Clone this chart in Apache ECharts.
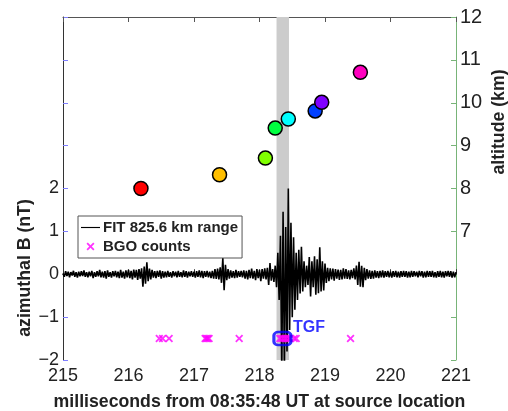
<!DOCTYPE html>
<html><head><meta charset="utf-8">
<script src="https://cdn.jsdelivr.net/npm/echarts@6/dist/echarts.min.js"></script>
<style>html,body{margin:0;padding:0;background:#fff}#c{width:508px;height:411px}</style>
</head><body><div id="c"></div>
<script>
// ---- data ----
const fitStart = 215, fitStep = 0.02; // sample grid of the FIT record (ms)
const fitValues = [
 0.02,-0.06,0.07,-0.04,0.06,-0.07,0.05,-0.03,0.08,-0.06,
 0.05,-0.08,0.06,-0.05,0.07,-0.04,0.09,-0.06,0.05,-0.07,
 0.06,-0.05,0.08,-0.09,0.05,-0.06,0.07,-0.05,0.10,-0.07,
 0.06,-0.08,0.07,-0.10,0.09,-0.06,0.05,-0.08,0.07,-0.05,
 0.08,-0.07,0.06,-0.09,0.10,-0.08,0.06,-0.10,0.09,-0.07,
 0.10,-0.09,0.08,-0.12,0.11,-0.08,0.10,-0.13,0.12,-0.10,
 0.14,-0.29,0.18,-0.22,0.28,-0.16,0.13,-0.12,0.10,-0.08,
 0.07,-0.09,0.08,-0.06,0.09,-0.10,0.07,-0.08,0.06,-0.07,
 0.08,-0.06,0.05,-0.08,0.07,-0.05,0.06,-0.07,0.08,-0.06,
 0.05,-0.07,0.09,-0.06,0.07,-0.08,0.06,-0.05,0.07,-0.06,
 0.06,-0.08,0.07,-0.06,0.09,-0.07,0.08,-0.09,0.07,-0.06,
 0.08,-0.07,0.06,-0.09,0.08,-0.10,0.12,-0.11,0.13,-0.12,
 0.16,-0.20,0.38,-0.37,0.22,-0.14,0.12,-0.10,0.09,-0.08,
 0.07,-0.09,0.10,-0.08,0.07,-0.06,0.08,-0.07,0.09,-0.10,
 0.08,-0.12,0.10,-0.09,0.13,-0.10,0.08,-0.14,0.12,-0.09,
 0.10,-0.16,0.12,-0.10,0.14,-0.12,0.15,-0.25,0.26,-0.15,
 0.12,-0.18,0.20,-0.30,0.50,-0.60,0.90,-2.30,1.46,-2.30,
 1.10,-1.80,2.00,-1.30,1.20,-1.00,0.86,-0.83,0.50,-0.60,
 0.57,-0.45,0.64,-0.40,0.30,-0.30,0.20,-0.25,0.40,-0.52,
 0.30,-0.30,0.42,-0.48,0.35,-0.44,0.63,-0.40,0.30,-0.38,
 0.25,-0.20,0.15,-0.16,0.14,-0.12,0.13,-0.15,0.12,-0.10,
 0.11,-0.13,0.10,-0.12,0.14,-0.10,0.12,-0.11,0.09,-0.12,
 0.10,-0.09,0.14,-0.12,0.20,-0.25,0.29,-0.29,0.20,-0.30,
 0.15,-0.14,0.12,-0.10,0.09,-0.11,0.08,-0.10,0.09,-0.08,
 0.07,-0.09,0.08,-0.07,0.09,-0.08,0.07,-0.06,0.08,-0.07,
 0.06,-0.08,0.07,-0.06,0.08,-0.07,0.06,-0.08,0.07,-0.06,
 0.08,-0.06,0.07,-0.08,0.06,-0.07,0.08,-0.06,0.07,-0.05,
 0.06,-0.07,0.08,-0.05,0.07,-0.08,0.06,-0.07,0.08,-0.06,
 0.07,-0.06,0.08,-0.07,0.05,-0.08,0.07,-0.06,0.08,-0.07,
 0.06,-0.08,0.07,-0.05,0.08,-0.06,0.07,-0.08,0.06,-0.07,
 0.05
];
const altTimes  = [216.19, 217.39, 218.09, 218.24, 218.44, 218.85, 218.95, 219.54];
const altValues = [8.00, 8.32, 8.71, 9.41, 9.62, 9.81, 10.01, 10.71];
const bgoTimes  = [216.47, 216.52, 216.62, 217.17, 217.19, 217.21, 217.23, 217.69,
                   218.31, 218.34, 218.37, 218.40, 218.43, 218.46, 218.53, 218.56, 219.39];
const bgoLevel  = -1.5;
const tgfBand   = [218.26, 218.45];
const tgfBox    = [218.35, -1.5];
const tgfLabelAt = [218.51, -1.25];
// ---- styles ----
const altColors = ['#ff0000','#ffbf00','#80ff00','#00ff40','#00ffff','#0040ff','#8000ff','#ff00bf'];
const FONT = "'Liberation Sans', Arial, Helvetica, sans-serif";
const xPath = 'path://M0,1.6L1.6,0L5,3.4L8.4,0L10,1.6L6.6,5L10,8.4L8.4,10L5,6.6L1.6,10L0,8.4L3.4,5Z';
const linePath = 'path://M0,0L40,0L40,2.4L0,2.4Z';

const fitData = fitValues.map((v, i) => [+(fitStart + i * fitStep).toFixed(3), v]);
const altData = altTimes.map((t, i) => ({value: [t, altValues[i]], itemStyle: {color: altColors[i]}}));
const bgoData = bgoTimes.map(t => [t, bgoLevel]);
const minus = v => v < 0 ? '\u2212' + Math.abs(v) : String(v);

const chart = echarts.init(document.getElementById('c'), null, {renderer: 'canvas'});
chart.setOption({
  animation: false,
  backgroundColor: '#fff',
  textStyle: {fontFamily: FONT},
  grid: {left: 63, right: 52, top: 17, bottom: 51, containLabel: false, outerBoundsMode: 'none'},
  legend: {
    left: 78, top: 216, orient: 'vertical',
    backgroundColor: '#fff', borderColor: '#555', borderWidth: 1,
    padding: [4, 4, 4, 3], itemGap: 4, itemWidth: 19, itemHeight: 8,
    textStyle: {fontFamily: FONT, fontWeight: 'bold', fontSize: 15, color: '#222', padding: [0,0,0,-2]},
    data: [{name: 'FIT 825.6 km range', icon: linePath, itemStyle: {color: '#000'}},
           {name: 'BGO counts', icon: xPath}]
  },
  xAxis: [{
    type: 'value', min: 215, max: 221, interval: 1, position: 'bottom',
    axisLine: {lineStyle: {color: '#333', width: 1}},
    axisTick: {inside: true, length: 5, lineStyle: {color: '#333'}},
    axisLabel: {fontSize: 18, color: '#222', margin: 7, fontFamily: FONT},
    splitLine: {show: false},
    name: 'milliseconds from 08:35:48 UT at source location',
    nameLocation: 'middle', nameGap: 33,
    nameTextStyle: {fontSize: 17.7, fontWeight: 'bold', color: '#222', fontFamily: FONT}
  }, {
    type: 'value', min: 215, max: 221, interval: 1, position: 'top',
    axisLine: {lineStyle: {color: '#555', width: 1}},
    axisTick: {inside: true, length: 5, lineStyle: {color: '#555'}},
    axisLabel: {show: false}, splitLine: {show: false}
  }],
  yAxis: [{
    type: 'value', min: -2, max: 6, interval: 1, position: 'left',
    axisLine: {show: true, lineStyle: {color: '#333'}},
    axisTick: {show: true, inside: true, length: 5, lineStyle: {color: '#7f7fff'}},
    axisLabel: {fontSize: 18, color: '#222', margin: 4, fontFamily: FONT,
      formatter: v => v <= 2 ? minus(v) : ''},
    splitLine: {show: false}
  }, {
    type: 'value', min: 4, max: 12, interval: 1, position: 'right', alignTicks: false,
    axisLine: {show: true, lineStyle: {color: '#78b478', width: 1}},
    axisTick: {show: true, inside: true, length: 5, lineStyle: {color: '#78b478'}},
    axisLabel: {fontSize: 20, color: '#222', margin: 4, fontFamily: FONT,
      formatter: v => v >= 7 ? String(v) : ''},
    splitLine: {show: false}
  }],
  series: [{
    name: 'band', type: 'line', data: [], z: 1, silent: true,
    markArea: {silent: true, itemStyle: {color: '#cccccc', opacity: 1},
      data: [[{xAxis: tgfBand[0]}, {xAxis: tgfBand[1]}]]}
  }, {
    name: 'FIT 825.6 km range', type: 'line', data: fitData, z: 3,
    symbol: 'none', showSymbol: false, clip: true,
    lineStyle: {color: '#000', width: 1.6}, itemStyle: {color: '#000'}
  }, {
    name: 'BGO counts', type: 'scatter', data: bgoData, z: 4,
    symbol: xPath, symbolSize: 8, itemStyle: {color: '#ff00ff'}
  }, {
    name: 'TGF box', type: 'scatter', data: [tgfBox], z: 5,
    symbol: 'roundRect', symbolSize: [17, 13],
    itemStyle: {color: 'rgba(0,0,0,0)', borderColor: '#0000ff', borderWidth: 2.8}
  }, {
    name: 'TGF label', type: 'scatter', data: [tgfLabelAt], z: 5,
    symbolSize: 0.1, itemStyle: {color: 'rgba(0,0,0,0)'},
    label: {show: true, position: 'right', distance: 0, formatter: 'TGF',
      color: '#0000ff', fontWeight: 'bold', fontSize: 16, fontFamily: FONT}
  }, {
    name: 'altitude', type: 'scatter', yAxisIndex: 1, data: altData, z: 6,
    symbol: 'circle', symbolSize: 14,
    itemStyle: {borderColor: '#000', borderWidth: 1.5, opacity: 1}
  }],
  graphic: [{
    type: 'text', x: 25, y: 268, rotation: Math.PI / 2,
    style: {text: 'azimuthal B (nT)', fill: '#222', font: "bold 17.7px " + FONT,
      align: 'center', verticalAlign: 'middle'}
  }, {
    type: 'text', x: 499, y: 122, rotation: Math.PI / 2,
    style: {text: 'altitude (km)', fill: '#222', font: "bold 17.7px " + FONT,
      align: 'center', verticalAlign: 'middle'}
  }]
});
</script></body></html>
